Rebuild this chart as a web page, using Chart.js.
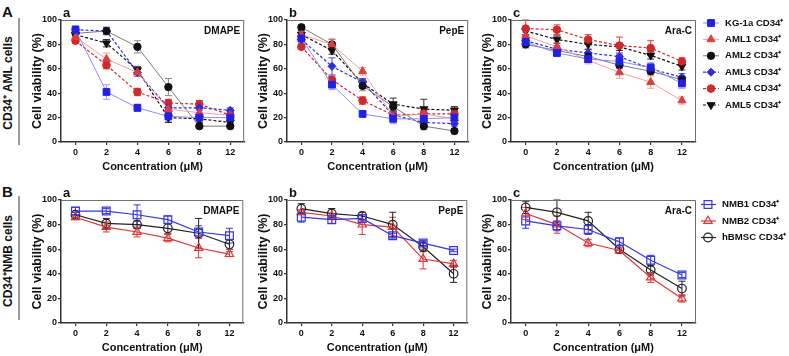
<!DOCTYPE html>
<html>
<head>
<meta charset="utf-8">
<script src="https://cdn.jsdelivr.net/npm/chart.js@4.4.1/dist/chart.umd.min.js"></script>
<style>
  body { margin: 0; background: #fff; }
  #fig { position: relative; width: 789px; height: 356px; overflow: hidden;
         font-family: "Liberation Sans", Arial, Helvetica, sans-serif; font-weight: bold; color: #111; }
  canvas { position: absolute; }
  .big { position: absolute; font-size: 15px; line-height: 15px; }
  .rot { position: absolute; font-size: 12px; line-height: 14px; white-space: nowrap;
         transform: translate(-50%, -50%) rotate(-90deg); }
  .bar { position: absolute; left: 18px; width: 1.5px; background: #9a9a9a; }
</style>
</head>
<body>
<div id="fig">
  <div class="big" style="left:2px;top:4px">A</div>
  <div class="big" style="left:2px;top:184px">B</div>
  <div class="rot" style="left:8px;top:83px">CD34⁺ AML cells</div>
  <div class="rot" style="left:8px;top:261px">CD34⁺NMB cells</div>
  <div class="bar" style="top:18px;height:127px"></div>
  <div class="bar" style="top:196px;height:124px"></div>
  <canvas id="Aa"></canvas>
  <canvas id="Ab"></canvas>
  <canvas id="Ac"></canvas>
  <canvas id="Ba"></canvas>
  <canvas id="Bb"></canvas>
  <canvas id="Bc"></canvas>
</div>
<script>
// concentrations (µM) shown on the x axis
const concLabels = ['0', '2', '4', '6', '8', '12'];
const yTicks = [0, 20, 40, 60, 80, 100];

const amlNames = ['KG-1a CD34⁺', 'AML1 CD34⁺', 'AML2 CD34⁺', 'AML3 CD34⁺', 'AML4 CD34⁺', 'AML5 CD34⁺'];
const nmbNames = ['NMB1 CD34⁺', 'NMB2 CD34⁺', 'hBMSC CD34⁺'];

// row A: CD34+ AML cells, one row per cell line (order of amlNames)
const amlDmape = [
  [92, 41, 28, 21, 20, 20],
  [86, 68, 57, 27, 24, 22],
  [89, 91, 78, 45, 13, 13],
  [92, 91, 57, 28, 28, 26],
  [83, 63, 41, 32, 31, 22],
  [88, 81, 59, 20, 19, 16]
];
const amlDmapeErr = [
  [3, 6, 3, 4, 3, 2],
  [4, 5, 3, 4, 3, 3],
  [3, 3, 5, 7, 2, 2],
  [3, 3, 3, 3, 2, 2],
  [2, 3, 3, 3, 3, 3],
  [3, 3, 3, 4, 3, 2]
];
const amlPepe = [
  [85, 47, 23, 19, 19, 20],
  [88, 80, 58, 21, 23, 19],
  [94, 80, 46, 29, 13, 9],
  [84, 62, 49, 22, 16, 15],
  [78, 51, 34, 22, 23, 23],
  [88, 75, 48, 31, 27, 26]
];
const amlPepeErr = [
  [3, 4, 2, 4, 3, 2],
  [3, 5, 3, 3, 3, 3],
  [2, 4, 4, 4, 3, 2],
  [3, 7, 3, 3, 2, 2],
  [2, 3, 3, 3, 3, 2],
  [3, 3, 3, 5, 8, 3]
];
const amlArac = [
  [82, 73, 68, 66, 61, 48],
  [87, 78, 67, 57, 49, 34],
  [80, 75, 70, 63, 58, 51],
  [83, 76, 73, 70, 60, 53],
  [93, 92, 84, 79, 77, 66],
  [91, 84, 80, 78, 71, 62]
];
const amlAracErr = [
  [4, 3, 3, 3, 4, 4],
  [3, 3, 3, 5, 5, 3],
  [3, 3, 3, 3, 3, 3],
  [4, 3, 3, 3, 4, 3],
  [7, 4, 4, 7, 6, 3],
  [3, 3, 4, 3, 3, 3]
];

// row B: CD34+ normal cells (order of nmbNames)
const nmbDmape = [
  [91, 91, 88, 84, 74, 71],
  [86, 78, 74, 69, 61, 56],
  [88, 81, 80, 77, 73, 64]
];
const nmbDmapeErr = [
  [3, 2, 8, 3, 5, 6],
  [2, 4, 4, 3, 8, 2],
  [2, 4, 3, 4, 12, 4]
];
const nmbPepe = [
  [86, 84, 85, 71, 65, 59],
  [90, 87, 80, 78, 52, 48],
  [93, 89, 87, 80, 62, 40]
];
const nmbPepeErr = [
  [4, 3, 3, 2, 2, 1],
  [2, 6, 8, 8, 8, 3],
  [4, 4, 3, 10, 4, 7]
];
const nmbArac = [
  [83, 79, 76, 66, 51, 39],
  [89, 80, 65, 59, 37, 20],
  [94, 90, 83, 60, 43, 28]
];
const nmbAracErr = [
  [6, 4, 4, 3, 4, 2],
  [5, 7, 3, 2, 4, 3],
  [5, 10, 7, 3, 4, 6]
];

const FONT = '"Liberation Sans", Arial, Helvetica, sans-serif';
Chart.defaults.font.family = FONT;
Chart.defaults.font.weight = 'bold';
Chart.defaults.color = '#111';

const amlStyle = [
  { color: '#2020ee', line: '#8c8cf6', err: '#9d9df7', shape: 'rect', r: 4.8, rot: 0, dash: [], lw: 1 },
  { color: '#e33a3a', line: '#f2a0a0', err: '#f2a6a6', shape: 'triangle', r: 4.6, rot: 0, dash: [], lw: 1 },
  { color: '#111111', line: '#7a7a7a', err: '#8a8a8a', shape: 'circle', r: 3.7, rot: 0, dash: [], lw: 1 },
  { color: '#2a2af0', line: '#2a2af0', err: '#4848f2', shape: 'rectRot', r: 4, rot: 0, dash: [3, 2], lw: 1.2 },
  { color: '#d42828', line: '#d42828', err: '#d83a3a', shape: 'circle', r: 3.8, rot: 0, dash: [3, 2], lw: 1.2 },
  { color: '#111111', line: '#111111', err: '#333333', shape: 'triangle', r: 4.6, rot: 180, dash: [3, 2], lw: 1.2 }
];
const nmbStyle = [
  { color: '#3535f0', line: '#3535f0', err: '#3535f0', shape: 'rect', r: 5.5, rot: 0, dash: [], lw: 1.2, open: true },
  { color: '#e03535', line: '#e03535', err: '#e03535', shape: 'triangle', r: 4.8, rot: 0, dash: [], lw: 1.2, open: true },
  { color: '#222222', line: '#222222', err: '#222222', shape: 'circle', r: 4.3, rot: 0, dash: [], lw: 1.2, open: true }
];

const panelDeco = {
  id: 'panelDeco',
  beforeDatasetsDraw(chart) {
    const { ctx, scales: { x, y } } = chart;
    chart.data.datasets.forEach(ds => {
      ctx.save();
      ctx.strokeStyle = ds.errColor;
      ctx.lineWidth = 1;
      ds.data.forEach((p, j) => {
        const e = ds.errors[j];
        const px = x.getPixelForValue(p.x);
        const yHi = y.getPixelForValue(p.y + e);
        const yLo = y.getPixelForValue(p.y - e);
        ctx.beginPath();
        ctx.moveTo(px, yHi); ctx.lineTo(px, yLo);
        ctx.moveTo(px - 3.5, yHi); ctx.lineTo(px + 3.5, yHi);
        ctx.moveTo(px - 3.5, yLo); ctx.lineTo(px + 3.5, yLo);
        ctx.stroke();
      });
      ctx.restore();
    });
  },
  afterDraw(chart, args, opts) {
    const { ctx, chartArea: a } = chart;
    ctx.save();
    // top and right frame
    ctx.strokeStyle = '#6e6e6e';
    ctx.lineWidth = 1;
    ctx.beginPath();
    ctx.moveTo(a.left, a.top + 0.5);
    ctx.lineTo(a.right - 0.5, a.top + 0.5);
    ctx.lineTo(a.right - 0.5, a.bottom);
    ctx.stroke();

    ctx.fillStyle = '#111';
    ctx.textAlign = 'left';
    ctx.textBaseline = 'alphabetic';
    ctx.font = 'bold 13px ' + FONT;
    ctx.fillText(opts.letter, a.left + 2, a.top - 3);

    ctx.textAlign = 'right';
    ctx.textBaseline = 'middle';
    ctx.font = 'bold 10px ' + FONT;
    ctx.fillText(opts.drug, a.right - 4, a.top + 11);

    if (opts.legend) {
      const L = opts.legend;
      chart.data.datasets.forEach((ds, i) => {
        const ly = a.top + L.y0 + i * L.dy;
        ctx.save();
        ctx.strokeStyle = ds.borderColor;
        ctx.lineWidth = ds.borderWidth;
        ctx.setLineDash(ds.borderDash);
        ctx.beginPath();
        ctx.moveTo(a.right + L.x0, ly);
        ctx.lineTo(a.right + L.x1, ly);
        ctx.stroke();
        ctx.setLineDash([]);
        ctx.fillStyle = ds.pointBackgroundColor;
        ctx.strokeStyle = ds.pointBorderColor;
        ctx.lineWidth = ds.pointBorderWidth;
        Chart.helpers.drawPoint(ctx, {
          pointStyle: ds.pointStyle, rotation: ds.pointRotation,
          radius: ds.pointRadius, borderWidth: ds.pointBorderWidth
        }, a.right + L.xm, ly);
        ctx.restore();
        ctx.fillStyle = '#111';
        ctx.textAlign = 'left';
        ctx.textBaseline = 'middle';
        ctx.font = 'bold 9.6px ' + FONT;
        ctx.fillText(ds.label, a.right + L.xt, ly);
      });
    }
    ctx.restore();
  }
};

function makePanel(id, box, names, styles, means, errs, opts) {
  const cv = document.getElementById(id);
  const left = box.left - 36;
  const right = opts.legend ? 789 : box.right + 4;
  cv.width = right - left;
  cv.height = box.h;
  cv.style.left = left + 'px';
  cv.style.top = box.top + 'px';

  const datasets = names.map((name, i) => {
    const s = styles[i];
    return {
      label: name,
      data: means[i].map((v, j) => ({ x: j, y: v })),
      errors: errs[i],
      errColor: s.err,
      borderColor: s.line,
      borderWidth: s.lw,
      borderDash: s.dash,
      pointStyle: s.shape,
      pointRotation: s.rot,
      pointRadius: s.r,
      pointHoverRadius: s.r,
      pointBackgroundColor: s.open ? 'rgba(255,255,255,0)' : s.color,
      pointBorderColor: s.color,
      pointBorderWidth: s.open ? 1.2 : 1,
      tension: 0,
      fill: false
    };
  });

  const axisLine = { display: true, color: '#333', width: 1.5 };
  const gridTicks = { display: true, drawOnChartArea: false, drawTicks: true, tickLength: 3, color: '#333', lineWidth: 1.2 };

  return new Chart(cv, {
    type: 'line',
    data: { datasets },
    options: {
      responsive: false,
      animation: false,
      layout: { padding: { top: box.padTop, right: right - box.right, left: 0, bottom: 0 } },
      plugins: {
        legend: { display: false },
        tooltip: { enabled: false },
        panelDeco: opts
      },
      scales: {
        x: {
          type: 'linear',
          min: -0.47,
          max: 5.45,
          afterBuildTicks: s => { s.ticks = concLabels.map((_, i) => ({ value: i })); },
          afterFit: s => { s.height = box.xh; },
          ticks: {
            callback: v => concLabels[v],
            autoSkip: false, maxRotation: 0,
            padding: 2,
            color: '#111',
            font: { size: 9, weight: 'bold' }
          },
          grid: gridTicks,
          border: axisLine,
          title: {
            display: true, text: 'Concentration (μM)', color: '#111',
            font: { size: 11, weight: 'bold' },
            padding: { top: 0, bottom: box.titlePad }
          }
        },
        y: {
          min: 0,
          max: 100,
          afterBuildTicks: s => { s.ticks = yTicks.map(v => ({ value: v })); },
          afterFit: s => { s.width = 36; },
          ticks: { padding: 1, color: '#111', font: { size: 9, weight: 'bold' } },
          grid: gridTicks,
          border: axisLine,
          title: {
            display: true, text: 'Cell viability (%)', color: '#111',
            font: { size: 12.5, weight: 'bold' },
            padding: { top: 5, bottom: 0 }
          }
        }
      }
    },
    plugins: [panelDeco]
  });
}

const rowA = { top: 0, h: 178, padTop: 20, xh: 36, titlePad: 4.4 };
const rowB = { top: 180, h: 176, padTop: 20, xh: 33, titlePad: 1.4 };
const cols = [{ left: 61, right: 246 }, { left: 287, right: 470 }, { left: 511, right: 696 }];

makePanel('Aa', { ...rowA, ...cols[0] }, amlNames, amlStyle, amlDmape, amlDmapeErr, { letter: 'a', drug: 'DMAPE' });
makePanel('Ab', { ...rowA, ...cols[1] }, amlNames, amlStyle, amlPepe, amlPepeErr, { letter: 'b', drug: 'PepE' });
makePanel('Ac', { ...rowA, ...cols[2] }, amlNames, amlStyle, amlArac, amlAracErr,
  { letter: 'c', drug: 'Ara-C', legend: { x0: 7, x1: 23, xm: 15, xt: 29, y0: 3, dy: 16.4 } });
makePanel('Ba', { ...rowB, ...cols[0] }, nmbNames, nmbStyle, nmbDmape, nmbDmapeErr, { letter: 'a', drug: 'DMAPE' });
makePanel('Bb', { ...rowB, ...cols[1] }, nmbNames, nmbStyle, nmbPepe, nmbPepeErr, { letter: 'b', drug: 'PepE' });
makePanel('Bc', { ...rowB, ...cols[2] }, nmbNames, nmbStyle, nmbArac, nmbAracErr,
  { letter: 'c', drug: 'Ara-C', legend: { x0: 5, x1: 20, xm: 12, xt: 26, y0: 4.5, dy: 16.5 } });
</script>
</body>
</html>
